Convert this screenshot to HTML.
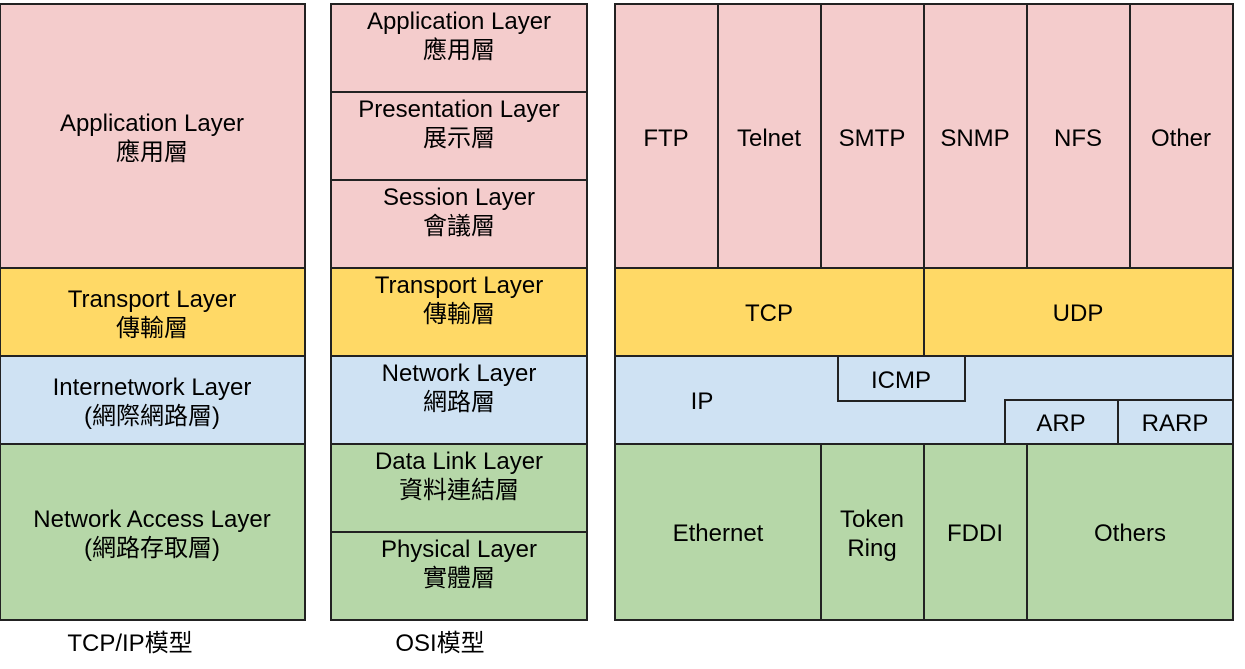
<!DOCTYPE html>
<html><head><meta charset="utf-8"><style>
html,body{margin:0;padding:0;background:#fff;width:1245px;height:669px;overflow:hidden}
svg text{font-family:"Liberation Sans","Noto Sans CJK TC",sans-serif;font-size:24px;fill:#000;text-anchor:middle}
</style></head><body>
<svg width="1245" height="669" xmlns="http://www.w3.org/2000/svg">
<g stroke="#222" stroke-width="2">
<rect x="0" y="4" width="305" height="264" fill="#f4cccc"/>
<rect x="0" y="268" width="305" height="88" fill="#ffd966"/>
<rect x="0" y="356" width="305" height="88" fill="#cfe2f3"/>
<rect x="0" y="444" width="305" height="176" fill="#b6d7a8"/>
<rect x="331" y="4" width="256" height="88" fill="#f4cccc"/>
<rect x="331" y="92" width="256" height="88" fill="#f4cccc"/>
<rect x="331" y="180" width="256" height="88" fill="#f4cccc"/>
<rect x="331" y="268" width="256" height="88" fill="#ffd966"/>
<rect x="331" y="356" width="256" height="88" fill="#cfe2f3"/>
<rect x="331" y="444" width="256" height="88" fill="#b6d7a8"/>
<rect x="331" y="532" width="256" height="88" fill="#b6d7a8"/>
<rect x="615" y="4" width="103" height="264" fill="#f4cccc"/>
<rect x="718" y="4" width="103" height="264" fill="#f4cccc"/>
<rect x="821" y="4" width="103" height="264" fill="#f4cccc"/>
<rect x="924" y="4" width="103" height="264" fill="#f4cccc"/>
<rect x="1027" y="4" width="103" height="264" fill="#f4cccc"/>
<rect x="1130" y="4" width="103" height="264" fill="#f4cccc"/>
<rect x="615" y="268" width="309" height="88" fill="#ffd966"/>
<rect x="924" y="268" width="309" height="88" fill="#ffd966"/>
<rect x="615" y="356" width="618" height="88" fill="#cfe2f3"/>
<rect x="838" y="356" width="127" height="45" fill="#cfe2f3"/>
<rect x="1005" y="400" width="113" height="44" fill="#cfe2f3"/>
<rect x="1118" y="400" width="115" height="44" fill="#cfe2f3"/>
<rect x="615" y="444" width="206" height="176" fill="#b6d7a8"/>
<rect x="821" y="444" width="103" height="176" fill="#b6d7a8"/>
<rect x="924" y="444" width="103" height="176" fill="#b6d7a8"/>
<rect x="1027" y="444" width="206" height="176" fill="#b6d7a8"/>
</g>
<text x="152" y="131">Application Layer</text><text x="152" y="160">應用層</text>
<text x="152" y="307">Transport Layer</text><text x="152" y="336">傳輸層</text>
<text x="152" y="395">Internetwork Layer</text><text x="152" y="424">(網際網路層)</text>
<text x="152" y="527">Network Access Layer</text><text x="152" y="556">(網路存取層)</text>
<text x="130" y="651">TCP/IP模型</text>
<text x="459" y="29">Application Layer</text><text x="459" y="58">應用層</text>
<text x="459" y="117">Presentation Layer</text><text x="459" y="146">展示層</text>
<text x="459" y="205">Session Layer</text><text x="459" y="234">會議層</text>
<text x="459" y="293">Transport Layer</text><text x="459" y="322">傳輸層</text>
<text x="459" y="381">Network Layer</text><text x="459" y="410">網路層</text>
<text x="459" y="469">Data Link Layer</text><text x="459" y="498">資料連結層</text>
<text x="459" y="557">Physical Layer</text><text x="459" y="586">實體層</text>
<text x="440" y="651">OSI模型</text>
<text x="666" y="146">FTP</text><text x="769" y="146">Telnet</text><text x="872" y="146">SMTP</text>
<text x="975" y="146">SNMP</text><text x="1078" y="146">NFS</text><text x="1181" y="146">Other</text>
<text x="769" y="321">TCP</text><text x="1078" y="321">UDP</text>
<text x="702" y="409">IP</text><text x="901" y="388">ICMP</text>
<text x="1061" y="431">ARP</text><text x="1175" y="431">RARP</text>
<text x="718" y="541">Ethernet</text>
<text x="872" y="527">Token</text><text x="872" y="556">Ring</text>
<text x="975" y="541">FDDI</text><text x="1130" y="541">Others</text>
</svg>
</body></html>
